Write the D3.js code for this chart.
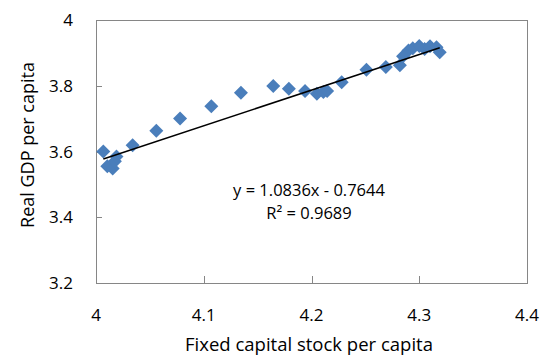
<!DOCTYPE html>
<html><head><meta charset="utf-8">
<script src="https://cdn.jsdelivr.net/npm/d3@7"></script>
<style>body{margin:0;background:#fff}svg{display:block}text{font-family:"Open Sans",sans-serif;fill:#000}</style>
</head><body>
<script>
const capital = [4.0068,4.0105,4.0155,4.0175,4.019,4.034,4.056,4.078,4.107,4.1345,4.1645,4.179,4.194,4.205,4.211,4.2145,4.228,4.251,4.269,4.282,4.285,4.29,4.294,4.3,4.305,4.31,4.316,4.319];
const gdp =     [3.600,3.555,3.548,3.570,3.585,3.619,3.663,3.700,3.738,3.779,3.799,3.791,3.784,3.776,3.781,3.784,3.811,3.849,3.857,3.862,3.890,3.907,3.914,3.921,3.912,3.920,3.917,3.902];
const trend = {slope:1.0836, intercept:-0.7644};
const xTicks = [4,4.1,4.2,4.3,4.4];
const yTicks = [3.2,3.4,3.6,3.8,4];
const eqText = "y = 1.0836x - 0.7644";
const r2Text = "R² = 0.9689";
const xTitle = "Fixed capital stock per capita";
const yTitle = "Real GDP per capita";

const W=541,H=356;
const svg=d3.select("body").append("svg").attr("width",W).attr("height",H);
const x=d3.scaleLinear().domain([4,4.4]).range([96,527]);
const y=d3.scaleLinear().domain([3.2,4]).range([283,20]);

svg.append("rect").attr("x",96).attr("y",20).attr("width",431).attr("height",263)
  .attr("fill","none").attr("stroke","#868686").attr("stroke-width",1).attr("shape-rendering","crispEdges");

// inner ticks
svg.append("g").selectAll("line").data(yTicks.slice(1,-1)).join("line")
  .attr("x1",96).attr("x2",102).attr("y1",d=>Math.round(y(d))+0.5).attr("y2",d=>Math.round(y(d))+0.5)
  .attr("stroke","#868686");
svg.append("g").selectAll("line").data(xTicks.slice(1,-1)).join("line")
  .attr("y1",283).attr("y2",276).attr("x1",d=>Math.round(x(d))+0.5).attr("x2",d=>Math.round(x(d))+0.5)
  .attr("stroke","#868686");

svg.append("g").selectAll("text").data(yTicks).join("text")
  .attr("x",73).attr("y",d=>y(d)).attr("dy","0.36em").attr("text-anchor","end")
  .attr("font-size",17).text(d=>d3.format("")(d));
svg.append("g").selectAll("text").data(xTicks).join("text")
  .attr("x",d=>x(d)).attr("y",321).attr("text-anchor","middle")
  .attr("font-size",17).text(d=>d3.format("")(d));

// points
const sym=d3.symbol().type(d3.symbolSquare).size(98);
svg.append("g").selectAll("path").data(capital.map((c,i)=>[c,gdp[i]])).join("path")
  .attr("d",sym).attr("transform",d=>`translate(${x(d[0])},${y(d[1])}) rotate(45)`)
  .attr("fill","#4a7ebb");

// trendline
const xe=d3.extent(capital);
svg.append("line").attr("x1",x(xe[0])).attr("y1",y(trend.slope*xe[0]+trend.intercept))
  .attr("x2",x(xe[1])).attr("y2",y(trend.slope*xe[1]+trend.intercept))
  .attr("stroke","#000").attr("stroke-width",1.5);

svg.append("text").attr("x",309).attr("y",196).attr("text-anchor","middle").attr("font-size",16.5).text(eqText);
svg.append("text").attr("x",309).attr("y",219).attr("text-anchor","middle").attr("font-size",16.5).text(r2Text);

svg.append("text").attr("x",309).attr("y",351).attr("text-anchor","middle").attr("font-size",18.5).text(xTitle);
svg.append("text").attr("transform","translate(34,145) rotate(-90)").attr("text-anchor","middle").attr("font-size",18).text(yTitle);
</script>
</body></html>
